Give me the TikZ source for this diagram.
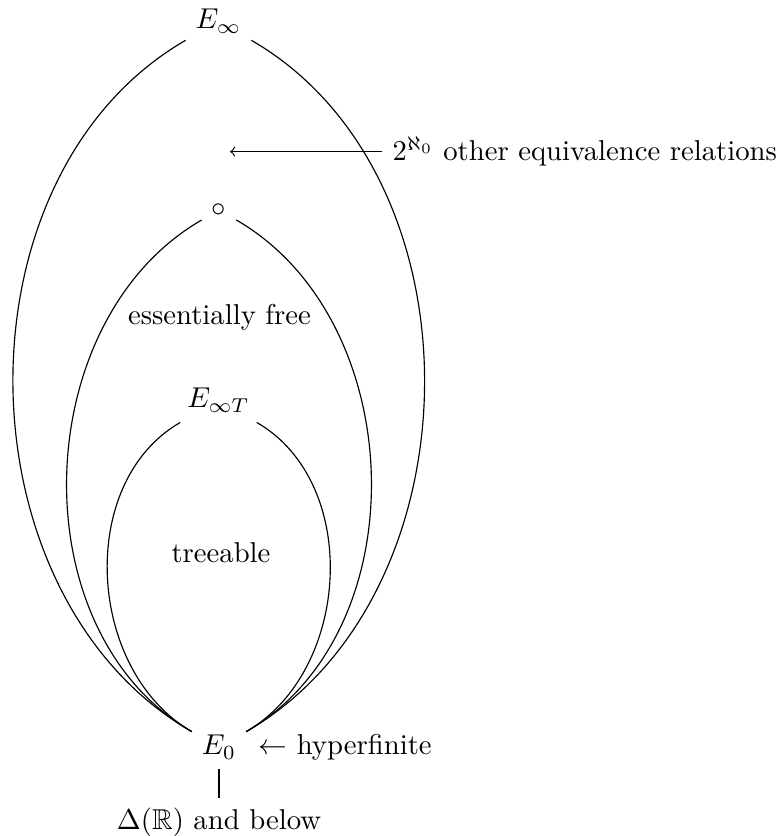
\documentclass[tikz,border=0pt]{standalone}
\usepackage{amssymb}
\begin{document}
\begin{tikzpicture}[x=0.3484pt,y=0.3484pt,
  lbl/.style={inner sep=3.333pt},
  lcurve/.style={to path={to[out=150,in=210] (\tikztotarget)}},
  rcurve/.style={to path={to[out=30,in=-30] (\tikztotarget)}}]
\useasboundingbox (0,0) rectangle (783,836);
\node[lbl,anchor=base] (Einf) at (218.5,807) {$E_\infty$};
\node[lbl] (circ) at (219,626) {$\circ$};
\node[lbl,anchor=base] (ess) at (219.5,511) {essentially free};
\node[lbl,anchor=base] (EinfT) at (218.5,428) {$E_{\infty T}$};
\node[lbl,anchor=base] (tree) at (221,273) {treeable};
\node[lbl,anchor=base] (E0) at (219,81) {$E_0$};
\node[lbl,anchor=base west] (hyper) at (248.4,81) {$\leftarrow$ hyperfinite};
\node[lbl,anchor=base west] (other) at (382.4,675) {$2^{\aleph_0}$ other equivalence relations};
\node[lbl,anchor=base] (Delta) at (219,6.7) {$\Delta(\mathbb{R})$ and below};
\coordinate (tipc) at (230,683);
\draw (E0) to[out=150,in=210] (Einf);
\draw (E0) to[out=30,in=-30] (Einf);
\draw (E0) to[out=150,in=210] (circ);
\draw (E0) to[out=30,in=-30] (circ);
\draw (E0) to[out=150,in=210] (EinfT);
\draw (E0) to[out=30,in=-30] (EinfT);
\draw (E0) -- (Delta);
\draw[->] (other.west) -- (tipc |- other.west);
\end{tikzpicture}
\end{document}
